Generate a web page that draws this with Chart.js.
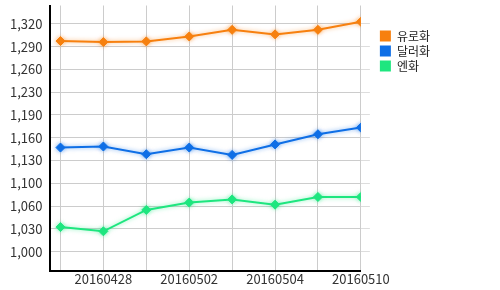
<!DOCTYPE html>
<html>
<head>
<meta charset="utf-8">
<script src="https://cdn.jsdelivr.net/npm/chart.js@4.4.1/dist/chart.umd.min.js"></script>
<style>
  html, body { margin: 0; padding: 0; background: #fff; }
  #wrap { width: 500px; height: 290px; }
</style>
</head>
<body>
<div id="wrap"><canvas id="chart"></canvas></div>
<script>
const dates = ['20160427', '20160428', '20160429', '20160502', '20160503', '20160504', '20160509', '20160510'];
const eur = [1300.5, 1299, 1300, 1307, 1316.5, 1310, 1316.5, 1328];
const usd = [1148.5, 1150, 1139, 1148.5, 1138, 1153, 1167.5, 1177];
const jpy = [1035, 1029, 1059.5, 1070, 1074.5, 1067, 1078, 1078];
const yTicks = [1000, 1032.5, 1065, 1097.5, 1130, 1162.5, 1195, 1227.5, 1260, 1292.5, 1325];
const yTickLabels = ['1,000', '1,030', '1,060', '1,100', '1,130', '1,160', '1,190', '1,230', '1,260', '1,290', '1,320'];

const font = "'Noto Sans CJK KR', 'Noto Sans', sans-serif";

function series(label, values, color) {
  return {
    label: label,
    data: values.map((v, i) => ({ x: i, y: v })),
    borderColor: color,
    backgroundColor: color,
    borderWidth: 2,
    tension: 0,
    pointStyle: 'rectRot',
    pointRadius: 4.5,
    pointBorderWidth: 1,
    pointBackgroundColor: color,
    pointBorderColor: color,
    glow: color
  };
}

// soft glow around each line
const glowPlugin = {
  id: 'glow',
  beforeDatasetDraw(chart, args) {
    const ctx = chart.ctx;
    ctx.save();
    ctx.shadowColor = chart.data.datasets[args.index].glow + '88';
    ctx.shadowBlur = 4;
  },
  afterDatasetDraw(chart) {
    chart.ctx.restore();
  }
};

const yMin = 971.8, yMax = 1351.2;

new Chart(document.getElementById('chart'), {
  type: 'line',
  data: {
    datasets: [
      series('유로화', eur, '#f7800f'),
      series('달러화', usd, '#0f6fe6'),
      series('엔화', jpy, '#1ee67f')
    ]
  },
  plugins: [glowPlugin],
  options: {
    responsive: true,
    maintainAspectRatio: false,
    animation: false,
    layout: { padding: { left: 2, right: 60, top: 0, bottom: 3 } },
    plugins: {
      tooltip: { enabled: false },
      legend: {
        position: 'right',
        align: 'start',
        title: { display: true, text: '', padding: { top: 17, bottom: 0 }, font: { size: 10, lineHeight: 1 } },
        labels: {
          boxWidth: 11,
          boxHeight: 11,
          padding: 3,
          color: '#222',
          font: { family: font, size: 12 },
          generateLabels: (chart) => Chart.defaults.plugins.legend.labels.generateLabels(chart)
            .map(l => Object.assign(l, { lineWidth: 0 }))
        }
      }
    },
    scales: {
      x: {
        type: 'linear',
        min: -0.233,
        max: 7,
        afterBuildTicks: (s) => { s.ticks = dates.map((d, i) => ({ value: i })); },
        ticks: {
          color: '#333',
          padding: 0,
          maxRotation: 0,
          autoSkip: false,
          font: { family: font, size: 13 },
          callback: (v) => (v % 2 === 1 ? dates[v] : '')
        },
        grid: { color: '#cccccc', drawTicks: false },
        border: { color: '#000', width: 2 }
      },
      y: {
        min: yMin,
        max: yMax,
        afterBuildTicks: (s) => { s.ticks = yTicks.map(v => ({ value: v })); },
        afterFit: (s) => { s.paddingTop = 0; s.paddingBottom = 0; },
        ticks: {
          color: '#333',
          padding: 8,
          font: { family: font, size: 13 },
          callback: (v) => yTickLabels[yTicks.indexOf(v)]
        },
        grid: { color: '#cccccc', drawTicks: false },
        border: { color: '#000', width: 2 }
      },
      y2: {
        position: 'right',
        min: yMin,
        max: yMax,
        afterBuildTicks: (s) => { s.ticks = yTicks.map(v => ({ value: v })); },
        afterFit: (s) => { s.width = 16; s.paddingTop = 0; s.paddingBottom = 0; },
        ticks: { display: false },
        grid: { drawOnChartArea: false, drawTicks: true, tickLength: 9, color: '#dddddd' },
        border: { display: false }
      }
    }
  }
});
</script>
</body>
</html>
